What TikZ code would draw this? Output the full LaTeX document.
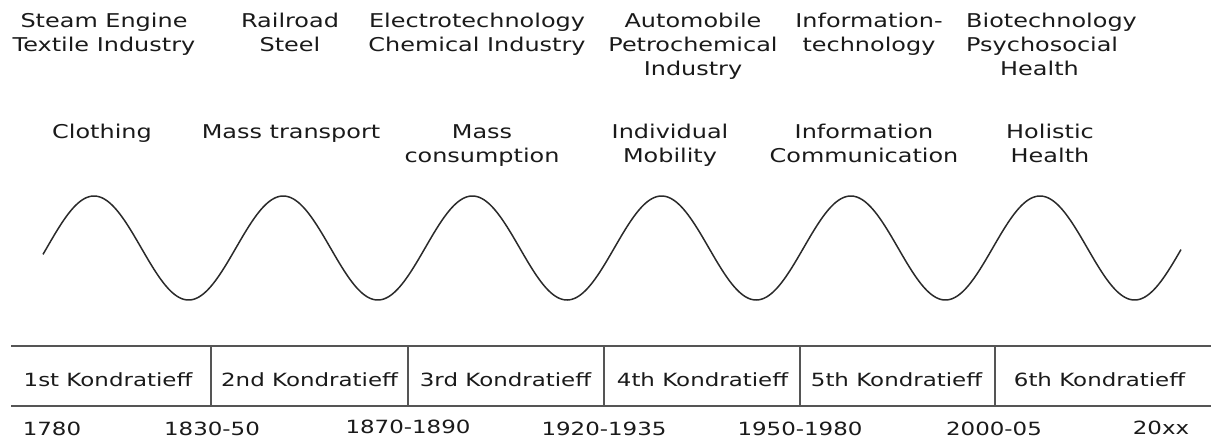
\documentclass[tikz,border=0pt]{standalone}
\usepackage{fontspec}
\setmainfont{DejaVu Sans}[FakeStretch=1.26]
\definecolor{txt}{HTML}{1A1A1A}
\definecolor{rulecol}{HTML}{555555}
\definecolor{wavecol}{HTML}{2A2A2A}
\begin{document}
\begin{tikzpicture}[x=1pt,y=-1pt,
  toplabel/.style={anchor=base, align=center, inner sep=0pt, text=txt, font=\fontsize{19}{24}\selectfont},
  celllabel/.style={anchor=base, inner sep=0pt, text=txt, font=\fontsize{18.2}{22}\selectfont},
  yearlabel/.style={anchor=base, inner sep=0pt, text=txt, font=\fontsize{18.2}{22}\selectfont},
  tablerule/.style={draw=rulecol, line width=1.5pt},
  wave/.style={draw=wavecol, line width=1.5pt}]
\useasboundingbox (0,0) rectangle (1211,442);
% top row: technologies (anchor = baseline of last line)
\node[toplabel] (t1) at (104,51) {Steam Engine\\Textile Industry};
\node[toplabel] (t2) at (290,51) {Railroad\\Steel};
\node[toplabel] (t3) at (477,51) {Electrotechnology\\Chemical Industry};
\node[toplabel] (t4) at (693,75) {Automobile\\Petrochemical\\Industry};
\node[toplabel] (t5) at (869,51) {Information-\\technology};
\node[toplabel, anchor=base west, align=left] (t6) at (966,75) {Biotechnology\\Psychosocial\\\hspace*{34pt}Health};
% second row: needs
\node[toplabel] (a1) at (102,138) {Clothing};
\node[toplabel] (a2) at (291,138) {Mass transport};
\node[toplabel] (a3) at (482,162) {Mass\\consumption};
\node[toplabel] (a4) at (670,162) {Individual\\Mobility};
\node[toplabel] (a5) at (864,162) {Information\\Communication};
\node[toplabel] (a6) at (1050,162) {Holistic\\Health};
% wave
\draw[wave] plot[domain=43:1181, samples=700] (\x, {248-52*sin(1.90275*(\x-46.7))});
% table
\coordinate (tl) at (11,346);
\coordinate (tr) at (1211,346);
\coordinate (bl) at (11,406);
\coordinate (br) at (1211,406);
\draw[tablerule] (tl) -- (tr);
\draw[tablerule] (bl) -- (br);
\foreach \i/\xx in {1/211,2/408,3/604,4/800,5/995}{
  \coordinate (s\i t) at (\xx,346);
  \coordinate (s\i b) at (\xx,406);
  \draw[tablerule] (s\i t) -- (s\i b);
}
\node[celllabel] (k1) at (108,386) {1st Kondratieff};
\node[celllabel] (k2) at (309.5,386) {2nd Kondratieff};
\node[celllabel] (k3) at (505.5,386) {3rd Kondratieff};
\node[celllabel] (k4) at (702.5,386) {4th Kondratieff};
\node[celllabel] (k5) at (896.5,386) {5th Kondratieff};
\node[celllabel] (k6) at (1099.5,386) {6th Kondratieff};
% years
\node[yearlabel] (y1) at (52,435) {1780};
\node[yearlabel] (y2) at (212,435) {1830-50};
\node[yearlabel] (y3) at (408,433) {1870-1890};
\node[yearlabel] (y4) at (604,435) {1920-1935};
\node[yearlabel] (y5) at (800,435) {1950-1980};
\node[yearlabel] (y6) at (994,435) {2000-05};
\node[yearlabel] (y7) at (1161,434) {20xx};
\end{tikzpicture}
\end{document}
